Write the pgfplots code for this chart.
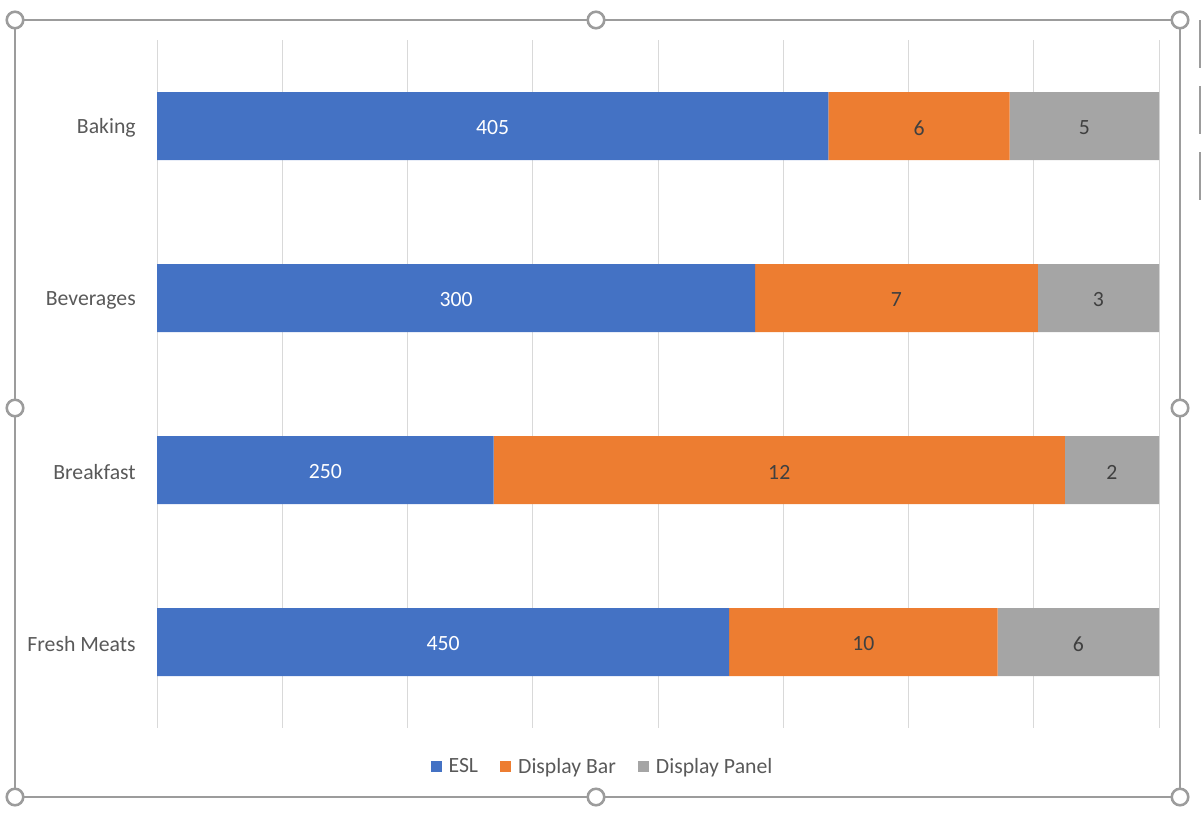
\documentclass[border=0pt]{standalone}
\usepackage{pgfplots}
\pgfplotsset{compat=1.18}
\usepackage{pgfplotstable}
\usepackage{fontspec}
\setmainfont{Carlito}
\definecolor{esl}{HTML}{4472C4}
\definecolor{dbar}{HTML}{ED7D31}
\definecolor{dpan}{HTML}{A5A5A5}
\definecolor{lbl}{HTML}{595959}
\definecolor{dlbl}{HTML}{404040}
\definecolor{gridc}{HTML}{D9D9D9}
\definecolor{framec}{HTML}{9C9C9C}

\pgfplotstableread{
cat esl eslL bar barL pan panL
0 0.670 405 0.181 6 0.149 5
1 0.597 300 0.282 7 0.121 3
2 0.336 250 0.570 12 0.094 2
3 0.571 450 0.268 10 0.161 6
}\datatable

\begin{document}
\begin{tikzpicture}
\useasboundingbox (0,0) rectangle (900.75pt,-615.75pt);
% chart frame with selection handles
\draw[framec, line width=1.6pt] (11.25pt,-15pt) rectangle (885pt,-597.75pt);
\foreach \hx/\hy in {11.25/-15, 447/-15, 885/-15, 11.25/-306, 885/-306, 11.25/-597.75, 447/-597.75, 885/-597.75}{
  \draw[framec, line width=1.9pt, fill=white] (\hx pt,\hy pt) circle (6.2pt);
}
\foreach \ya/\yb in {-15/-51, -64.5/-100.5, -114/-150}{
  \draw[framec, line width=1.2pt] (900pt,\ya pt) -- (900pt,\yb pt);
}
\begin{axis}[
  at={(117.75pt,-30pt)}, anchor=north west,
  scale only axis, width=751.5pt, height=516pt,
  xbar stacked, bar width=51pt,
  xmin=0, xmax=1, ymin=-0.5, ymax=3.5, y dir=reverse,
  xtick={0,0.125,...,1}, xticklabels={},
  ytick={0,1,2,3}, yticklabels={Baking,Beverages,Breakfast,Fresh Meats},
  xmajorgrids, grid style={gridc, line width=0.75pt},
  axis line style={draw=none}, major tick length=0pt,
  tick label style={font=\fontsize{16.3}{19}\selectfont},
  yticklabel style={lbl, inner sep=0pt, xshift=-15.75pt, yshift=-1.5pt},
  legend style={draw=none, fill=none, at={(0.4436,-0.0565)}, anchor=center,
    font=\fontsize{16.3}{19}\selectfont\color{lbl}, inner sep=0pt,
    nodes={inner sep=0pt},
    /tikz/every odd column/.append style={column sep=5.25pt},
    /tikz/every even column/.append style={column sep=16.5pt}},
  legend columns=3,
  legend image code/.code={\fill[#1] (0pt,-4.1pt) rectangle (8.25pt,4.1pt);},
  nodes near coords,
  point meta=explicit symbolic,
]
\addplot[fill=esl, draw=none,
  every node near coord/.style={anchor=center, white, font=\fontsize{16.3}{19}\selectfont, yshift=-1.5pt}]
  table[x=esl, y=cat, meta=eslL] {\datatable};
\addplot[fill=dbar, draw=none,
  every node near coord/.style={anchor=center, dlbl, font=\fontsize{16.3}{19}\selectfont, yshift=-1.5pt}]
  table[x=bar, y=cat, meta=barL] {\datatable};
\addplot[fill=dpan, draw=none,
  every node near coord/.style={anchor=center, dlbl, font=\fontsize{16.3}{19}\selectfont, yshift=-1.5pt}]
  table[x=pan, y=cat, meta=panL] {\datatable};
\legend{ESL, Display Bar, Display Panel}
\end{axis}
\end{tikzpicture}
\end{document}
